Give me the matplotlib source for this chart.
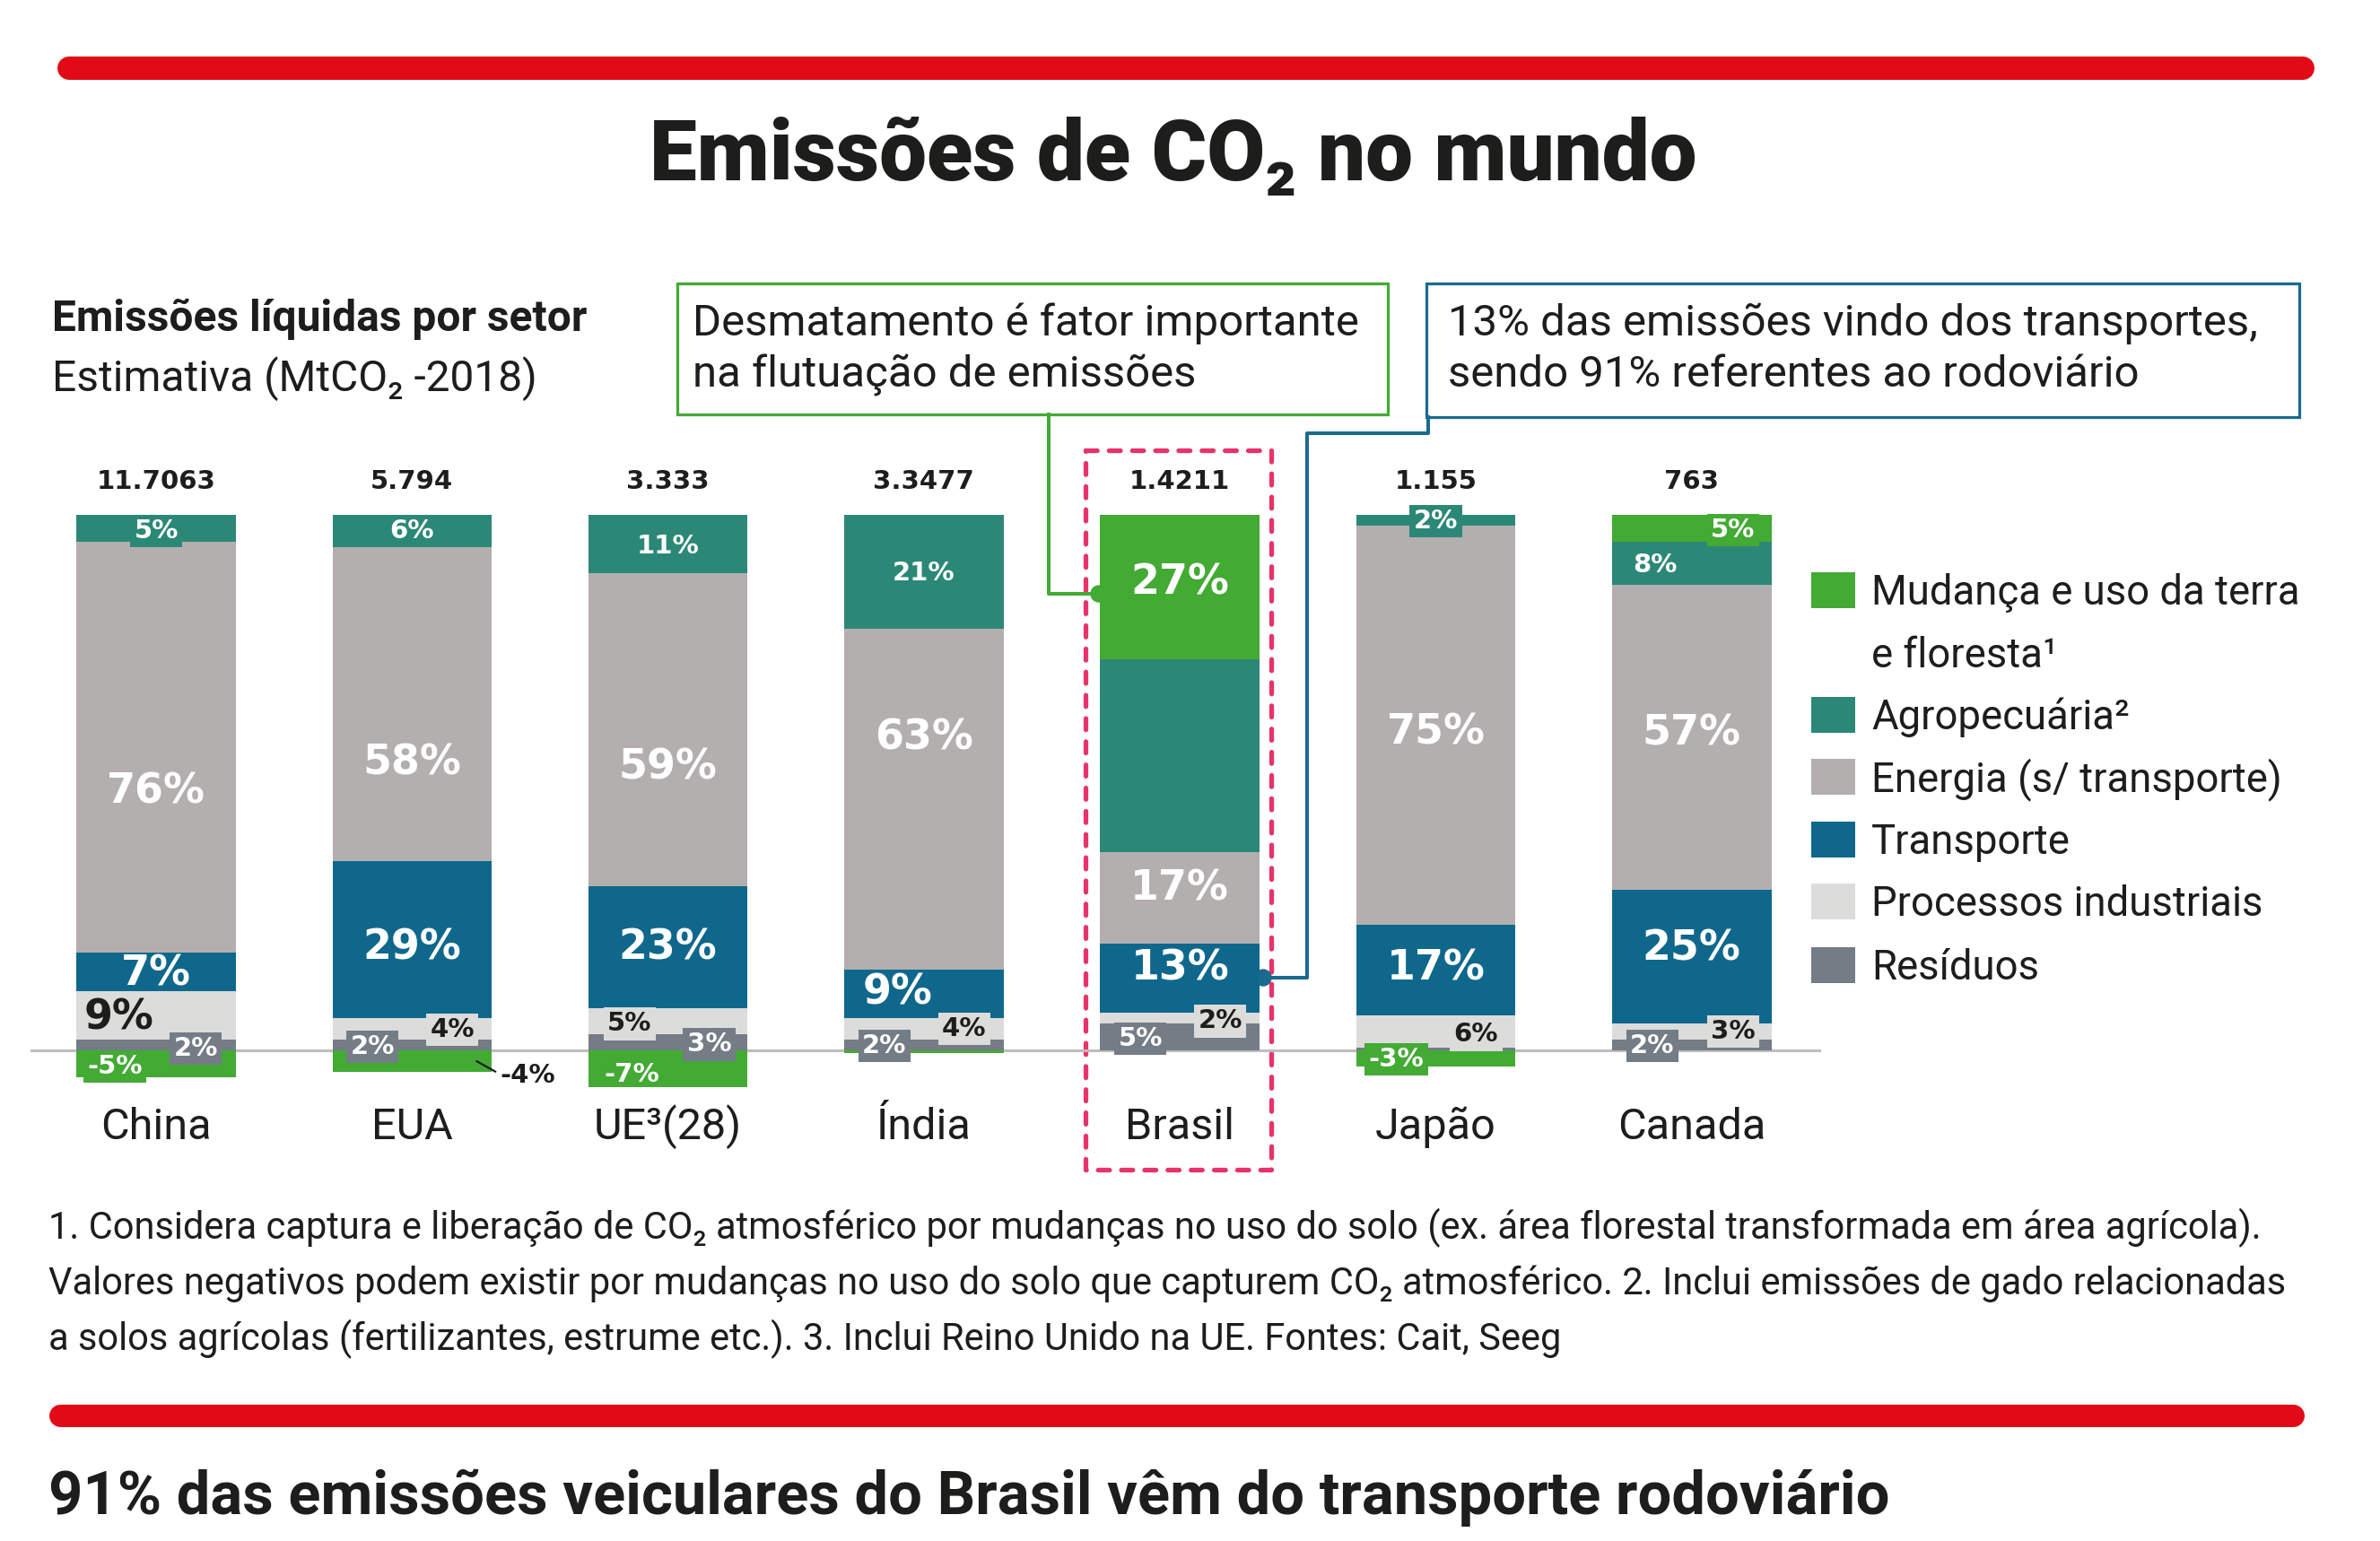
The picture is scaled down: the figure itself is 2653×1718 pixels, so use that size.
import numpy as np
import matplotlib
matplotlib.use("Agg")
import matplotlib.pyplot as plt
from matplotlib import font_manager
from matplotlib.patches import Rectangle, Circle

# ---------------------------------------------------------------
# Dados (participação % de cada setor nas emissões líquidas)
# ---------------------------------------------------------------
paises = ["China", "EUA", "UE³(28)", "Índia", "Brasil", "Japão", "Canada"]
totais = ["11.7063", "5.794", "3.333", "3.3477", "1.4211", "1.155", "763"]

residuos = [2, 2, 3, 2, 5, 0.5, 2]
industria = [9, 4, 5, 4, 2, 6, 3]
transporte = [7, 29, 23, 9, 13, 17, 25]
energia = [76, 58, 59, 63, 17, 75, 57]
agropecuaria = [5, 6, 11, 21, 36, 2, 8]
uso_terra = [-5, -4, -7, -0.5, 27, -3, 5]

legenda_rotulos = ["Mudança e uso da terra\ne floresta¹", "Agropecuária²",
                   "Energia (s/ transporte)", "Transporte",
                   "Processos industriais", "Resíduos"]

# ---------------------------------------------------------------
# Estilo
# ---------------------------------------------------------------
VERDE = "#43AA34"
TEAL = "#2C8876"
CINZA = "#B3AFAE"
AZUL = "#0F688C"
CLARO = "#DCDCDB"
ARDOSIA = "#747C86"
VERMELHO = "#E20A17"
ROSA = "#E8336A"
AZUL_LINHA = "#1B6A8E"
PRETO = "#1D1D1B"

cores = [ARDOSIA, CLARO, AZUL, CINZA, TEAL, VERDE]  # ordem de empilhamento
cores_legenda = [VERDE, TEAL, CINZA, AZUL, CLARO, ARDOSIA]

nomes = {f.name for f in font_manager.fontManager.ttflist}
FONTE = ["Roboto", "DejaVu Sans"] if "Roboto" in nomes else ["DejaVu Sans"]
if "Liberation Sans Narrow" in nomes:
    FONTE_TIT, PESO_TIT = ["Liberation Sans Narrow", "DejaVu Sans"], "bold"
else:
    FONTE_TIT, PESO_TIT = FONTE, "black"
NUM = "DejaVu Sans"

W, H = 2653, 1718
fig = plt.figure(figsize=(W / 100, H / 100), dpi=100)
fig.patch.set_facecolor("white")
renderer = fig.canvas.get_renderer()


def ajustar(t, largura):
    """Reescala a fonte do texto para ocupar a largura desejada (px)."""
    bb = t.get_window_extent(renderer)
    t.set_fontsize(t.get_fontsize() * largura / bb.width)
    return t.get_fontsize()


# camada de decoração em coordenadas de pixel
deco = fig.add_axes([0, 0, 1, 1])
deco.set_xlim(0, W)
deco.set_ylim(H, 0)
deco.axis("off")

# ---------------------------------------------------------------
# Eixo das barras
# ---------------------------------------------------------------
PASSO = 285.3     # px entre barras
PX_PCT = 5.97     # px por ponto percentual
BASE_Y = 1171     # linha do zero (px)
X0 = 174          # centro da primeira barra (px)
esq, dirt, topo, fundo = 34, 2030, 470, 1290

ax = fig.add_axes([esq / W, 1 - fundo / H, (dirt - esq) / W, (fundo - topo) / H])
ax.set_xlim((esq - X0) / PASSO, (dirt - X0) / PASSO)
ax.set_ylim((BASE_Y - fundo) / PX_PCT, (BASE_Y - topo) / PX_PCT)
ax.axis("off")

x = np.arange(len(paises))
dados = np.array([residuos, industria, transporte, energia, agropecuaria, uso_terra], dtype=float)
escala = 100 / np.clip(dados, 0, None).sum(axis=0)
alturas = dados * escala

ax.axhline(0, color="#BDBDBD", lw=2.2, zorder=0.5)

base = np.zeros(len(paises))
centros = []
for k in range(len(dados)):
    h = alturas[k]
    inicio = np.where(h >= 0, base, 0)
    ax.bar(x, h, bottom=inicio, width=0.622, color=cores[k], linewidth=0, zorder=1)
    centros.append(inicio + h / 2)
    base = base + np.clip(h, 0, None)

# rótulos de percentual: (país, setor, dx px, dy px, tamanho, estilo)
rotulos = [
    (0, 4, 0, 3, "p", "caixa"), (0, 3, 0, 50, "g", "branco"), (0, 2, 0, 2, "g", "branco"),
    (0, 1, -41, 3, "g", "preto"), (0, 0, 44, 4, "p", "caixa"), (0, 5, -46, 3, "p", "caixa"),
    (1, 4, 0, 0, "p", "branco"), (1, 3, 0, 66, "g", "branco"), (1, 2, 0, 10, "g", "branco"),
    (1, 0, -44, 2, "p", "caixa"), (1, 1, 45, 1, "p", "caixa"),
    (2, 4, 0, 2, "p", "branco"), (2, 3, 0, 43, "g", "branco"), (2, 2, 0, 1, "g", "branco"),
    (2, 1, -43, 3, "p", "caixa"), (2, 0, 46, 2, "p", "caixa"), (2, 5, -40, 6, "p", "branco"),
    (3, 4, 0, 2, "p", "branco"), (3, 3, 0, -68, "g", "branco"), (3, 2, -29, -1, "g", "branco"),
    (3, 0, -44, 1, "p", "caixa"), (3, 1, 45, 0, "p", "caixa"),
    (4, 5, 0, -5, "g", "branco"), (4, 3, 0, -10, "g", "branco"), (4, 2, 0, -10, "g", "branco"),
    (4, 0, -44, 2, "p", "caixa"), (4, 1, 45, 3, "p", "caixa"),
    (5, 4, 0, 1, "p", "caixa"), (5, 3, 0, 8, "g", "branco"), (5, 2, 0, -2, "g", "branco"),
    (5, 1, 45, 3, "p", "caixa"), (5, 5, -44, 1, "p", "caixa"),
    (6, 5, 46, 2, "p", "caixa"), (6, 4, -41, 2, "p", "branco"), (6, 3, 0, -4, "g", "branco"),
    (6, 2, 0, -9, "g", "branco"), (6, 0, -44, 1, "p", "caixa"), (6, 1, 46, 0, "p", "caixa"),
]
tamanhos = {"g": 33, "p": 21}

for i, k, dx, dy, tam, estilo in rotulos:
    txt = f"{dados[k][i]:g}%"
    cor_txt = PRETO if (estilo == "preto" or (estilo == "caixa" and k == 1)) else "white"
    caixa = dict(boxstyle="square,pad=0.15", fc=cores[k], ec="none") if estilo == "caixa" else None
    ax.annotate(txt, (x[i], centros[k][i]), xytext=(dx * 0.72, -dy * 0.72),
                textcoords="offset points", ha="center", va="center",
                fontsize=tamanhos[tam], fontweight="bold", family=NUM,
                color=cor_txt, bbox=caixa, zorder=4)

# rótulo externo do EUA (-4%), ligado ao canto da barra
ax.annotate(f"{dados[5][1]:g}%", (x[1] + 72 / PASSO, centros[5][1]),
            xytext=(57 * 0.72, -16 * 0.72), textcoords="offset points",
            ha="center", va="center", fontsize=21, fontweight="bold", family=NUM,
            color=PRETO, zorder=4,
            arrowprops=dict(arrowstyle="-", color=PRETO, lw=1.6, relpos=(0, 0.55),
                            shrinkA=2, shrinkB=0))

# totais e nomes dos países
for i in range(len(paises)):
    ax.text(x[i], (BASE_Y - 537) / PX_PCT, totais[i], ha="center", va="center",
            family=NUM, fontweight="bold", fontsize=21, color=PRETO)
    ax.text(x[i], (BASE_Y - 1270) / PX_PCT, paises[i], ha="center", va="baseline",
            family=FONTE, fontsize=35, color=PRETO)

# ---------------------------------------------------------------
# Decoração: faixas, títulos, chamadas, legenda, notas
# ---------------------------------------------------------------
deco.plot([77, 2567], [76, 76], color=VERMELHO, lw=26 * 0.72, solid_capstyle="round")
deco.plot([67, 2556], [1578, 1578], color=VERMELHO, lw=25 * 0.72, solid_capstyle="round")

t = deco.text(1308, 201, "Emissões de CO₂ no mundo", ha="center", va="baseline",
              family=FONTE_TIT, fontweight=PESO_TIT, fontsize=70, color=PRETO)
ajustar(t, 1168)

t = deco.text(58, 369, "Emissões líquidas por setor", ha="left", va="baseline",
              family=FONTE, fontweight="bold", fontsize=30, color=PRETO)
fs = ajustar(t, 595)
deco.text(58, 436, "Estimativa (MtCO₂ -2018)", ha="left", va="baseline",
          family=FONTE, fontsize=fs, color=PRETO)

# caixa do Brasil
deco.add_patch(Rectangle((1210, 502), 207, 802, fill=False, ec=ROSA, lw=3.8,
                         linestyle=(0, (2.4, 2.5)), capstyle="round",
                         joinstyle="round", zorder=1))

# chamadas
deco.add_patch(Rectangle((755, 316), 792, 146, fc="white", ec=VERDE, lw=2.3, zorder=2))
deco.add_patch(Rectangle((1590, 316), 973, 149, fc="white", ec=AZUL_LINHA, lw=2.3, zorder=2))
deco.plot([1169, 1169, 1225], [462, 662, 662], color=VERDE, lw=2.9, zorder=3)
deco.add_patch(Circle((1225, 662), 9, color=VERDE, zorder=3))
deco.plot([1592, 1592, 1457, 1457, 1408], [465, 483, 483, 1090, 1090],
          color=AZUL_LINHA, lw=2.9, zorder=3)
deco.add_patch(Circle((1408, 1090), 9, color=AZUL_LINHA, zorder=3))

t = deco.text(772, 374, "Desmatamento é fator importante", ha="left", va="baseline",
              family=FONTE, fontsize=30, color=PRETO, zorder=4)
fs = ajustar(t, 741)
deco.text(772, 431, "na flutuação de emissões", ha="left", va="baseline",
          family=FONTE, fontsize=fs, color=PRETO, zorder=4)
deco.text(1614, 374, "13% das emissões vindo dos transportes,", ha="left", va="baseline",
          family=FONTE, fontsize=fs, color=PRETO, zorder=4)
deco.text(1614, 431, "sendo 91% referentes ao rodoviário", ha="left", va="baseline",
          family=FONTE, fontsize=fs, color=PRETO, zorder=4)

# legenda
legenda_y = [658, 797, 866, 936, 1005, 1076]
t = deco.text(2086, 674, "Mudança e uso da terra", family=FONTE, fontsize=33,
              ha="left", va="baseline", color=PRETO)
fs = ajustar(t, 479)
t.remove()
for cor, rotulo, yc in zip(cores_legenda, legenda_rotulos, legenda_y):
    deco.add_patch(Rectangle((2019, yc - 20), 49, 40, color=cor, lw=0))
    for j, linha in enumerate(rotulo.split("\n")):
        deco.text(2086, yc + 16 + 70 * j, linha, family=FONTE, fontsize=fs,
                  ha="left", va="baseline", color=PRETO)

# notas
notas = [
    "1. Considera captura e liberação de CO₂ atmosférico por mudanças no uso do solo (ex. área florestal transformada em área agrícola).",
    "Valores negativos podem existir por mudanças no uso do solo que capturem CO₂ atmosférico. 2. Inclui emissões de gado relacionadas",
    "a solos agrícolas (fertilizantes, estrume etc.). 3. Inclui Reino Unido na UE. Fontes: Cait, Seeg",
]
t = deco.text(54, 1381, notas[0], family=FONTE, fontsize=26, ha="left", va="baseline", color=PRETO)
fs = ajustar(t, 2472)
for j, linha in enumerate(notas[1:], start=1):
    deco.text(54, 1381 + 62 * j, linha, family=FONTE, fontsize=fs, ha="left",
              va="baseline", color=PRETO)

t = deco.text(54, 1688, "91% das emissões veiculares do Brasil vêm do transporte rodoviário",
              family=FONTE, fontweight="bold", fontsize=44, ha="left", va="baseline", color=PRETO)
ajustar(t, 2049)

fig.savefig("out.png", dpi=100, facecolor="white")
